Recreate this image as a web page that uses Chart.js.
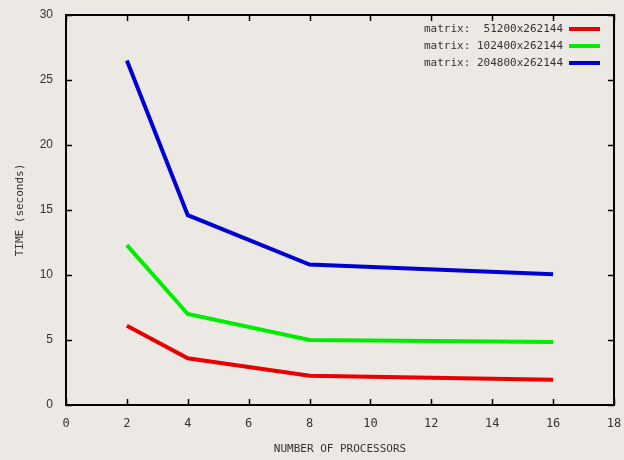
<!DOCTYPE html>
<html>
<head>
<meta charset="utf-8">
<script src="https://cdn.jsdelivr.net/npm/chart.js@4"></script>
<style>
  html, body { margin: 0; padding: 0; background: #ece9e4; }
  #wrap { width: 624px; height: 460px; }
</style>
</head>
<body>
<div id="wrap"><canvas id="chart" width="624" height="460"></canvas></div>
<script>
// data
const processors = [2, 4, 8, 16];
const labels = ['matrix:  51200x262144', 'matrix: 102400x262144', 'matrix: 204800x262144'];
const time51200 = [6.1, 3.6, 2.25, 1.95];
const time102400 = [12.3, 7.0, 5.0, 4.85];
const time204800 = [26.5, 14.6, 10.8, 10.05];
const colors = ['rgb(232,0,0)', 'rgb(0,236,0)', 'rgb(0,0,208)'];

const BG = '#ece9e4';
const monoFont = '"DejaVu Sans Mono", monospace';

function toPoints(ys) {
    return processors.map((x, i) => ({ x: x, y: ys[i] }));
}

// gnuplot-like frame, inward ticks on all four sides, and legend
const framePlugin = {
    id: 'frame',
    beforeDraw(chart) {
        const ctx = chart.ctx;
        ctx.save();
        ctx.fillStyle = BG;
        ctx.fillRect(0, 0, chart.width, chart.height);
        ctx.restore();
    },
    afterDraw(chart) {
        const ctx = chart.ctx;
        const a = chart.chartArea;
        const xs = chart.scales.x, ys = chart.scales.y;
        ctx.save();
        ctx.strokeStyle = '#000';
        ctx.lineWidth = 2;
        ctx.strokeRect(a.left, a.top, a.right - a.left, a.bottom - a.top);
        ctx.lineWidth = 1.5;
        const len = 6;
        xs.ticks.forEach(t => {
            const px = Math.round(xs.getPixelForValue(t.value)) + 0.5;
            ctx.beginPath();
            ctx.moveTo(px, a.bottom); ctx.lineTo(px, a.bottom - len);
            ctx.moveTo(px, a.top); ctx.lineTo(px, a.top + len);
            ctx.stroke();
        });
        ys.ticks.forEach(t => {
            const py = Math.round(ys.getPixelForValue(t.value)) + 0.5;
            ctx.beginPath();
            ctx.moveTo(a.left, py); ctx.lineTo(a.left + len, py);
            ctx.moveTo(a.right, py); ctx.lineTo(a.right - len, py);
            ctx.stroke();
        });

        // legend, top right inside the frame
        ctx.font = '11px ' + monoFont;
        ctx.textAlign = 'right';
        ctx.textBaseline = 'middle';
        chart.data.datasets.forEach((ds, i) => {
            const y = a.top + 14 + i * 17;
            ctx.fillStyle = '#333';
            ctx.fillText(ds.label, a.right - 51, y);
            ctx.strokeStyle = ds.borderColor;
            ctx.lineWidth = 4;
            ctx.beginPath();
            ctx.moveTo(a.right - 45, y);
            ctx.lineTo(a.right - 14, y);
            ctx.stroke();
        });
        ctx.restore();
    }
};

new Chart(document.getElementById('chart'), {
    type: 'line',
    data: {
        datasets: [
            { label: labels[0], data: toPoints(time51200), borderColor: colors[0] },
            { label: labels[1], data: toPoints(time102400), borderColor: colors[1] },
            { label: labels[2], data: toPoints(time204800), borderColor: colors[2] }
        ]
    },
    options: {
        responsive: false,
        animation: false,
        layout: { padding: { top: 15, right: 10, left: 0, bottom: 0 } },
        elements: {
            line: { borderWidth: 4, tension: 0, borderJoinStyle: 'miter' },
            point: { radius: 0 }
        },
        plugins: {
            legend: { display: false },
            tooltip: { enabled: false }
        },
        scales: {
            x: {
                type: 'linear',
                min: 0, max: 18,
                ticks: { stepSize: 2, color: '#333', padding: 4, font: { family: monoFont, size: 12 } },
                grid: { display: false },
                border: { display: false },
                title: { display: true, text: 'NUMBER OF PROCESSORS', color: '#333', padding: { top: 10 }, font: { family: monoFont, size: 11 } },
                afterFit(s) { s.height = 55; s.paddingLeft = 0; s.paddingRight = 0; }
            },
            y: {
                min: 0, max: 30,
                ticks: { stepSize: 5, color: '#333', padding: 5, font: { family: '"Liberation Sans", Arial, sans-serif', size: 12 } },
                grid: { display: false },
                border: { display: false },
                title: { display: true, text: 'TIME (seconds)', color: '#333', padding: { top: 14, bottom: 4 }, font: { family: monoFont, size: 11 } },
                afterFit(s) { s.width = 66; s.paddingTop = 0; s.paddingBottom = 0; }
            }
        }
    },
    plugins: [framePlugin]
});
</script>
</body>
</html>
